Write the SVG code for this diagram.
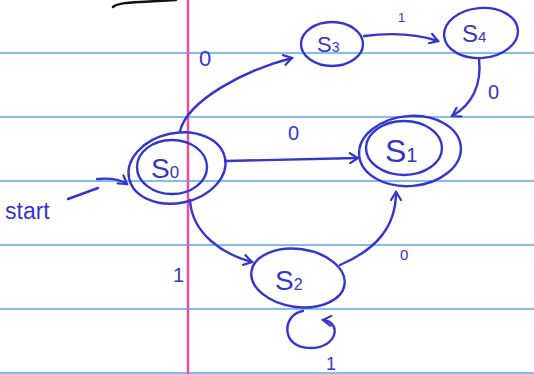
<svg xmlns="http://www.w3.org/2000/svg" width="534" height="374" viewBox="0 0 534 374">
<style>
.rule{stroke:#86bbf2;stroke-width:2}
.ink{fill:none;stroke:#3436cc;stroke-width:2.4;stroke-linecap:round;stroke-linejoin:round}
.lbl{fill:#3436cc;font-family:"Liberation Sans","DejaVu Sans",sans-serif}
</style>
<defs>
<marker id="ah" viewBox="0 0 12 12" refX="10" refY="6" markerWidth="12" markerHeight="12" markerUnits="userSpaceOnUse" orient="auto">
<path d="M2,1 L10,6 L2,11" fill="none" stroke="#3436cc" stroke-width="2.2" stroke-linecap="round"/>
</marker>
</defs>
<rect width="534" height="374" fill="#ffffff"/>
<g id="paper">
<line class="rule" x1="0" y1="53" x2="534" y2="53"/>
<line class="rule" x1="0" y1="117" x2="534" y2="117"/>
<line class="rule" x1="0" y1="181" x2="534" y2="181"/>
<line class="rule" x1="0" y1="245" x2="534" y2="245"/>
<line class="rule" x1="0" y1="309" x2="534" y2="309"/>
<line class="rule" x1="0" y1="373" x2="534" y2="373"/>
<line x1="188" y1="0" x2="188" y2="374" stroke="#f24ba0" stroke-width="2.5"/>
<path d="M113,7 Q116,3 140,2 L176,0" fill="none" stroke="#111" stroke-width="2.5" stroke-linecap="round"/>
</g>
<g id="connectors">
<path class="ink" d="M97,179 C108,178 120,179 127,184" marker-end="url(#ah)"/>
<path class="ink" d="M180,131 C188,100 245,70 292,58" marker-end="url(#ah)"/>
<path class="ink" d="M226,161 L358,158" marker-end="url(#ah)"/>
<path class="ink" d="M190,200 C192,235 225,255 252,262" marker-end="url(#ah)"/>
<path class="ink" d="M364,36 C395,32 420,35 438,41" marker-end="url(#ah)"/>
<path class="ink" d="M479,58 C482,85 472,105 452,116" marker-end="url(#ah)"/>
<path class="ink" d="M340,265 C375,250 396,228 396,192" marker-end="url(#ah)"/>
<path class="ink" d="M303,311 C282,314 280,348 310,348 C338,348 342,322 323,320" marker-end="url(#ah)"/>
<path class="ink" d="M68,199 L98,188"/>
<text class="lbl" x="5" y="219" font-size="23">start</text>
<text class="lbl" x="199" y="66" font-size="22">0</text>
<text class="lbl" x="288" y="140" font-size="20">0</text>
<text class="lbl" x="173" y="282" font-size="20">1</text>
<text class="lbl" x="398" y="22" font-size="13">1</text>
<text class="lbl" x="488" y="99" font-size="20">0</text>
<text class="lbl" x="400" y="260" font-size="15">0</text>
<text class="lbl" x="326" y="370" font-size="18">1</text>
</g>
<g id="S0">
<ellipse class="ink" cx="177" cy="168" rx="49" ry="35" transform="rotate(-12 177 168)"/>
<ellipse class="ink" cx="172" cy="167" rx="35" ry="27"/>
<text class="lbl" x="151" y="178" font-size="28">S<tspan font-size="17">0</tspan></text>
</g>
<g id="S1">
<ellipse class="ink" cx="410" cy="151" rx="51" ry="35" transform="rotate(-5 410 151)"/>
<ellipse class="ink" cx="404" cy="148" rx="38" ry="27"/>
<text class="lbl" x="385" y="162" font-size="32">S<tspan font-size="20">1</tspan></text>
</g>
<g id="S2">
<ellipse class="ink" cx="298" cy="278" rx="47" ry="29" transform="rotate(8 298 278)"/>
<text class="lbl" x="275" y="290" font-size="28">S<tspan font-size="16">2</tspan></text>
</g>
<g id="S3">
<ellipse class="ink" cx="332" cy="44" rx="31" ry="22"/>
<text class="lbl" x="317" y="52" font-size="22">S<tspan font-size="14">3</tspan></text>
</g>
<g id="S4">
<ellipse class="ink" cx="481" cy="33" rx="37" ry="25" transform="rotate(-5 481 33)"/>
<text class="lbl" x="462" y="42" font-size="24">S<tspan font-size="15">4</tspan></text>
</g>
</svg>
